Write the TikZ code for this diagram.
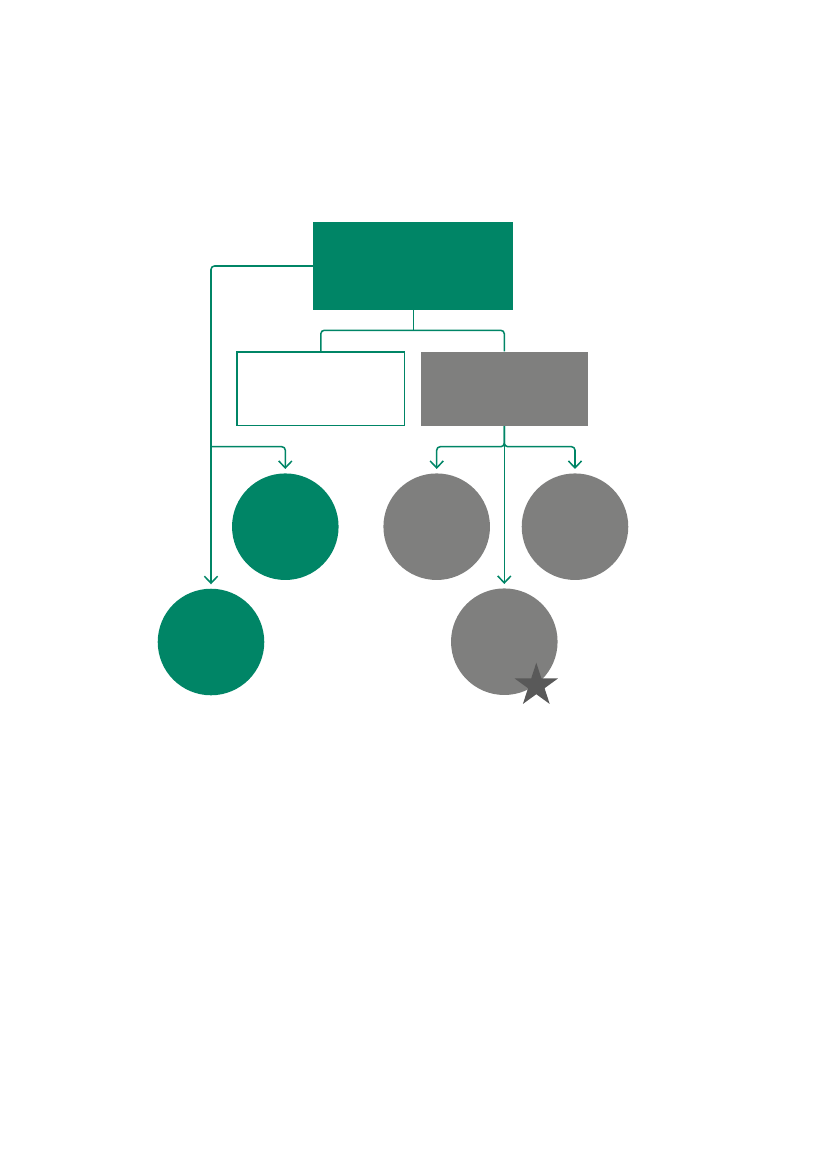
\documentclass[tikz,border=0pt]{standalone}
\usepackage{tikz}
\usetikzlibrary{shapes.geometric, arrows.meta, positioning}
\definecolor{dgreen}{RGB}{0,133,102}
\definecolor{mgray}{RGB}{127,127,126}
\definecolor{sgray}{RGB}{89,89,89}
\tikzstyle{grect} = [rectangle, 
			fill = dgreen, 
			minimum width = 144pt, 
			minimum height = 63.3pt]
\tikzstyle{wrect} = [rectangle, 
			draw = dgreen, 
			line width = 1.1pt, 
			minimum width = 120.3pt, 
			minimum height = 52.7pt]
\tikzstyle{yrect} = [rectangle, 
			fill = mgray, 
			minimum width = 120.4pt, 
			minimum height = 53.5pt]
\tikzstyle{gcirc} = [circle, fill = dgreen, minimum size = 76.7pt, inner sep = 0pt]
\tikzstyle{ycirc} = [circle, fill = mgray, minimum size = 76.7pt, inner sep = 0pt]
\tikzstyle{line} = [draw = dgreen, line width = 1.1pt, rounded corners = 2.5pt]
\tikzstyle{arrow} = [line, -{Straight Barb[length = 5pt, width = 9.5pt]}, shorten > = 3pt]

\begin{document}
\begin{tikzpicture}[x = 0.7198pt, y = -0.7198pt]
	\useasboundingbox (0,0) rectangle (827,1169);
	% boxes
	\node [grect] (top) at (413.3,266) {};
	\node [wrect] (left) at (320.8,388.8) {};
	\node [yrect] (right) at (504.3,388.8) {};
	% circles
	\node [gcirc] (gone) at (285.3,526.7) {};
	\node [ycirc] (yone) at (436.7,526.7) {};
	\node [ycirc] (ytwo) at (575,526.7) {};
	\node [gcirc] (gtwo) at (211,642) {};
	\node [ycirc] (ythree) at (504.3,641.7) {};
	\node [star, star points = 5, star point ratio = 2.618, fill = sgray, minimum size = 32.8pt, inner sep = 0pt] (flag) at (536.3,685.5) {};
	% split points
	\coordinate (bar) at (413.3,330.3);
	\coordinate (lsplit) at (210.7,446.7);
	\coordinate (rsplit) at (504.3,446.7);
	% connectors
	\path [line] (top.south) -- (bar);
	\path [line] (left.north) |- (bar) -| (right.north);
	\path [arrow] (top.west) -| (gtwo.north);
	\path [arrow] (lsplit) -| (gone.north);
	\path [arrow] (right.south) -- (rsplit) -| (yone.north);
	\path [arrow] (right.south) -- (rsplit) -| (ytwo.north);
	\path [arrow] (right.south) -- (ythree.north);
\end{tikzpicture}
\end{document}
